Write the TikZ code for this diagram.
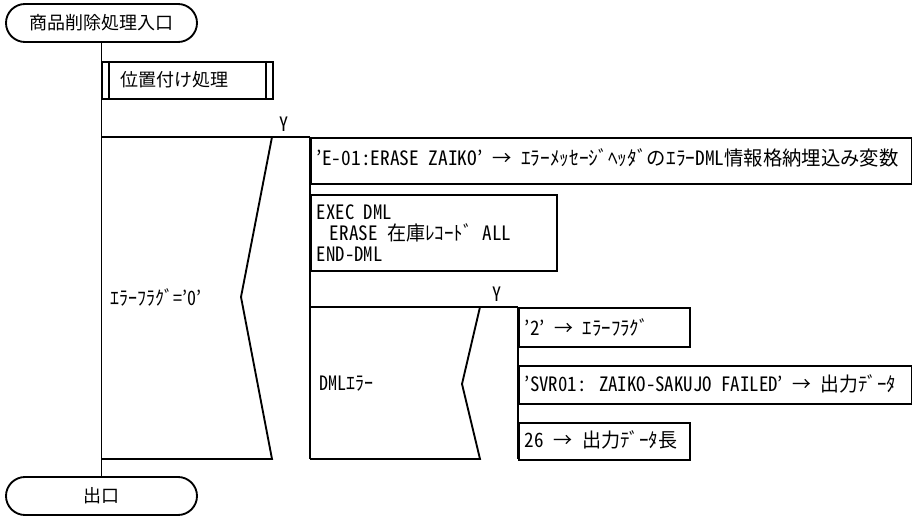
\documentclass[tikz,border=0pt]{standalone}
\usepackage{graphicx}
\usepackage{fontspec}
\setmainfont{Noto Sans CJK JP}[RawFeature=+hwid]
\newfontfamily\fwfont{Noto Sans CJK JP}
\usetikzlibrary{shapes.misc}
\newcommand{\arr}{{\fwfont →}}
\newcommand{\hsc}[2]{\scalebox{#1}[1.1]{#2}}
\newcommand{\basefont}{\fontsize{13.5pt}{14.25pt}\selectfont\fontdimen2\font=6.75pt\relax\fontdimen3\font=0pt\relax\fontdimen4\font=0pt\relax}
\begin{document}
\begin{tikzpicture}[x=0.75pt,y=-0.75pt,line width=1.4pt,
  font=\basefont,
  term/.style={draw,rounded rectangle,minimum width=143.25pt,minimum height=28.5pt,inner sep=0pt},
  box/.style={draw,anchor=north west,inner sep=0pt},
  lbl/.style={anchor=west,inner sep=0pt}]
\useasboundingbox (0,0) rectangle (912,516);
% terminals
\node[term] (start) at (101.5,23) {商品削除処理入口};
\node[term] (end) at (101.5,496) {出口};
\draw (start.south) -- (end.north);
% subroutine
\node[box,minimum width=128.25pt,minimum height=27.75pt] (sub) at (101,61) {};
\draw ([xshift=6pt]sub.north west) -- ([xshift=6pt]sub.south west);
\draw ([xshift=-6pt]sub.north east) -- ([xshift=-6pt]sub.south east);
\node[lbl] (tsub) at (120,80) {位置付け処理};
% condition 1
\node[inner sep=0pt] (y1) at (284,124) {\hsc{1}{Y}};
\coordinate (c1a) at (101,137);
\coordinate (c1b) at (310,137);
\coordinate (c1t) at (272,137);
\coordinate (c1v) at (241,297);
\coordinate (c1s) at (272,459);
\coordinate (c1l) at (101,459);
\coordinate (c1e) at (310,459);
\draw (c1a) -- (c1b);
\draw (c1t) -- (c1v) -- (c1s) -- (c1l);
\draw (c1b) -- (c1e);
\node[lbl] (cond1) at (110,297) {\hsc{1}{ｴﾗｰﾌﾗｸﾞ='0'}};
% boxes in branch 1
\node[box,minimum width=450.75pt,minimum height=34.5pt] (b1) at (310,137) {};
\node[lbl] (t1) at (316,158) {\hsc{1.075}{'E-01:ERASE ZAIKO' \arr{} ｴﾗｰﾒｯｾｰｼﾞﾍｯﾀﾞのｴﾗｰDML情報格納埋込み変数}};
\node[box,minimum width=184.5pt,minimum height=57pt] (b2) at (310,194) {};
\node[lbl] (t2a) at (316,212) {\hsc{1.04}{EXEC DML}};
\node[lbl] (t2b) at (329,233) {\hsc{1.06}{ERASE 在庫ﾚｺｰﾄﾞ ALL}};
\node[lbl] (t2c) at (316,254) {\hsc{1.04}{END-DML}};
% condition 2
\node[inner sep=0pt] (y2) at (497,294) {\hsc{1}{Y}};
\coordinate (c2a) at (310,307);
\coordinate (c2b) at (518,307);
\coordinate (c2t) at (480,307);
\coordinate (c2v) at (462,384);
\coordinate (c2s) at (480,459);
\coordinate (c2l) at (310,459);
\coordinate (c2e) at (518,459);
\draw (c2a) -- (c2b);
\draw (c2t) -- (c2v) -- (c2s) -- (c2l);
\draw (c2b) -- (c2e);
\node[lbl] (cond2) at (319,384) {\hsc{1}{DMLｴﾗｰ}};
% boxes in branch 2
\node[box,minimum width=128.25pt,minimum height=29.25pt] (b3) at (518,307) {};
\node[lbl] (t3) at (524,327) {\hsc{1.05}{'2' \arr{} ｴﾗｰﾌﾗｸﾞ}};
\node[box,minimum width=294.75pt,minimum height=28.5pt] (b4) at (518,365) {};
\node[lbl] (t4) at (524,384) {\hsc{1.045}{'SVR01: ZAIKO-SAKUJO FAILED' \arr{} 出力ﾃﾞｰﾀ}};
\node[box,minimum width=128.25pt,minimum height=27.75pt] (b5) at (518,422) {};
\node[lbl] (t5) at (524,440) {\hsc{1.06}{26 \arr{} 出力ﾃﾞｰﾀ長}};
\end{tikzpicture}
\end{document}
